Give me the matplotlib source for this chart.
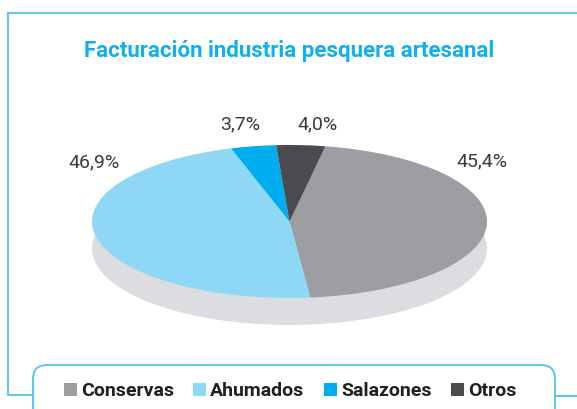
import matplotlib
matplotlib.use("Agg")
import matplotlib.pyplot as plt
from matplotlib.patches import Ellipse, FancyBboxPatch, Patch
from matplotlib.lines import Line2D

# ---- data ----
categories = ["Conservas", "Ahumados", "Salazones", "Otros"]
values = [45.4, 46.9, 3.7, 4.0]
value_labels = ["45,4%", "46,9%", "3,7%", "4,0%"]
title = "Facturación industria pesquera artesanal"

# ---- style ----
colors = ["#9d9ea2", "#8fd8f5", "#00aeef", "#4a4b4f"]
shadow_color = "#dcdde0"
frame_color = "#4fc3ef"
title_color = "#0fb0ec"
W, H = 577, 409

cond = ["Roboto", "DejaVu Sans"]
light = ["Roboto", "DejaVu Sans"]

fig = plt.figure(figsize=(W / 100, H / 100), dpi=100)

# overlay axes in pixel coordinates
ov = fig.add_axes([0, 0, 1, 1])
ov.set_xlim(0, W)
ov.set_ylim(H, 0)
ov.axis("off")

# frame lines
ov.add_line(Line2D([8, 8, 33], [13, 394.5, 394.5], color=frame_color, lw=1.3))
ov.add_line(Line2D([8, W], [13, 13], color=frame_color, lw=1.3))
ov.add_line(Line2D([555, W], [395.5, 395.5], color=frame_color, lw=1.3))
box = FancyBboxPatch((33, 365), 555 - 33, 60,
                     boxstyle="round,pad=0,rounding_size=14",
                     fc="white", ec=frame_color, lw=1.3)
ov.add_patch(box)

ov.text(289, 51.5, title, ha="center", va="center", color=title_color,
        fontsize=16, fontweight="bold", family=cond)

# pie axes: bounding box of the top face
x0, x1, y0, y1 = 92, 487, 145, 298
ax = fig.add_axes([x0 / W, 1 - y1 / H, (x1 - x0) / W, (y1 - y0) / H])
ax.pie(values, colors=colors, startangle=79.5, counterclock=False,
       radius=1, center=(0, 0), wedgeprops=dict(linewidth=0))
ax.set_aspect("auto")
ax.set_xlim(-1, 1)
ax.set_ylim(-1, 1)
ax.axis("off")
shadow_offset = -27 / ((y1 - y0) / 2)
ax.add_patch(Ellipse((0, shadow_offset), 2, 2, fc=shadow_color, ec="none",
                     zorder=0, clip_on=False))

# value labels (pixel positions)
label_pos = [(482, 161.5), (94, 162.5), (240, 124), (318, 124)]
for (lx, ly), t in zip(label_pos, value_labels):
    ov.text(lx, ly, t, ha="center", va="center", color="#3a3a3c",
            fontsize=14, fontweight="normal", family=light)

handles = [Patch(fc=c, ec="none") for c in colors]
leg = fig.legend(handles, categories, ncol=4, loc="center left",
                 bbox_to_anchor=(64 / W, 1 - 391 / H), frameon=False,
                 borderpad=0, borderaxespad=0, handlelength=0.67,
                 handleheight=0.67, handletextpad=0.2, columnspacing=1.0,
                 prop=dict(family=cond, weight="bold", size=14))
for t in leg.get_texts():
    t.set_color("#231f20")

fig.savefig("out.png", dpi=100)
